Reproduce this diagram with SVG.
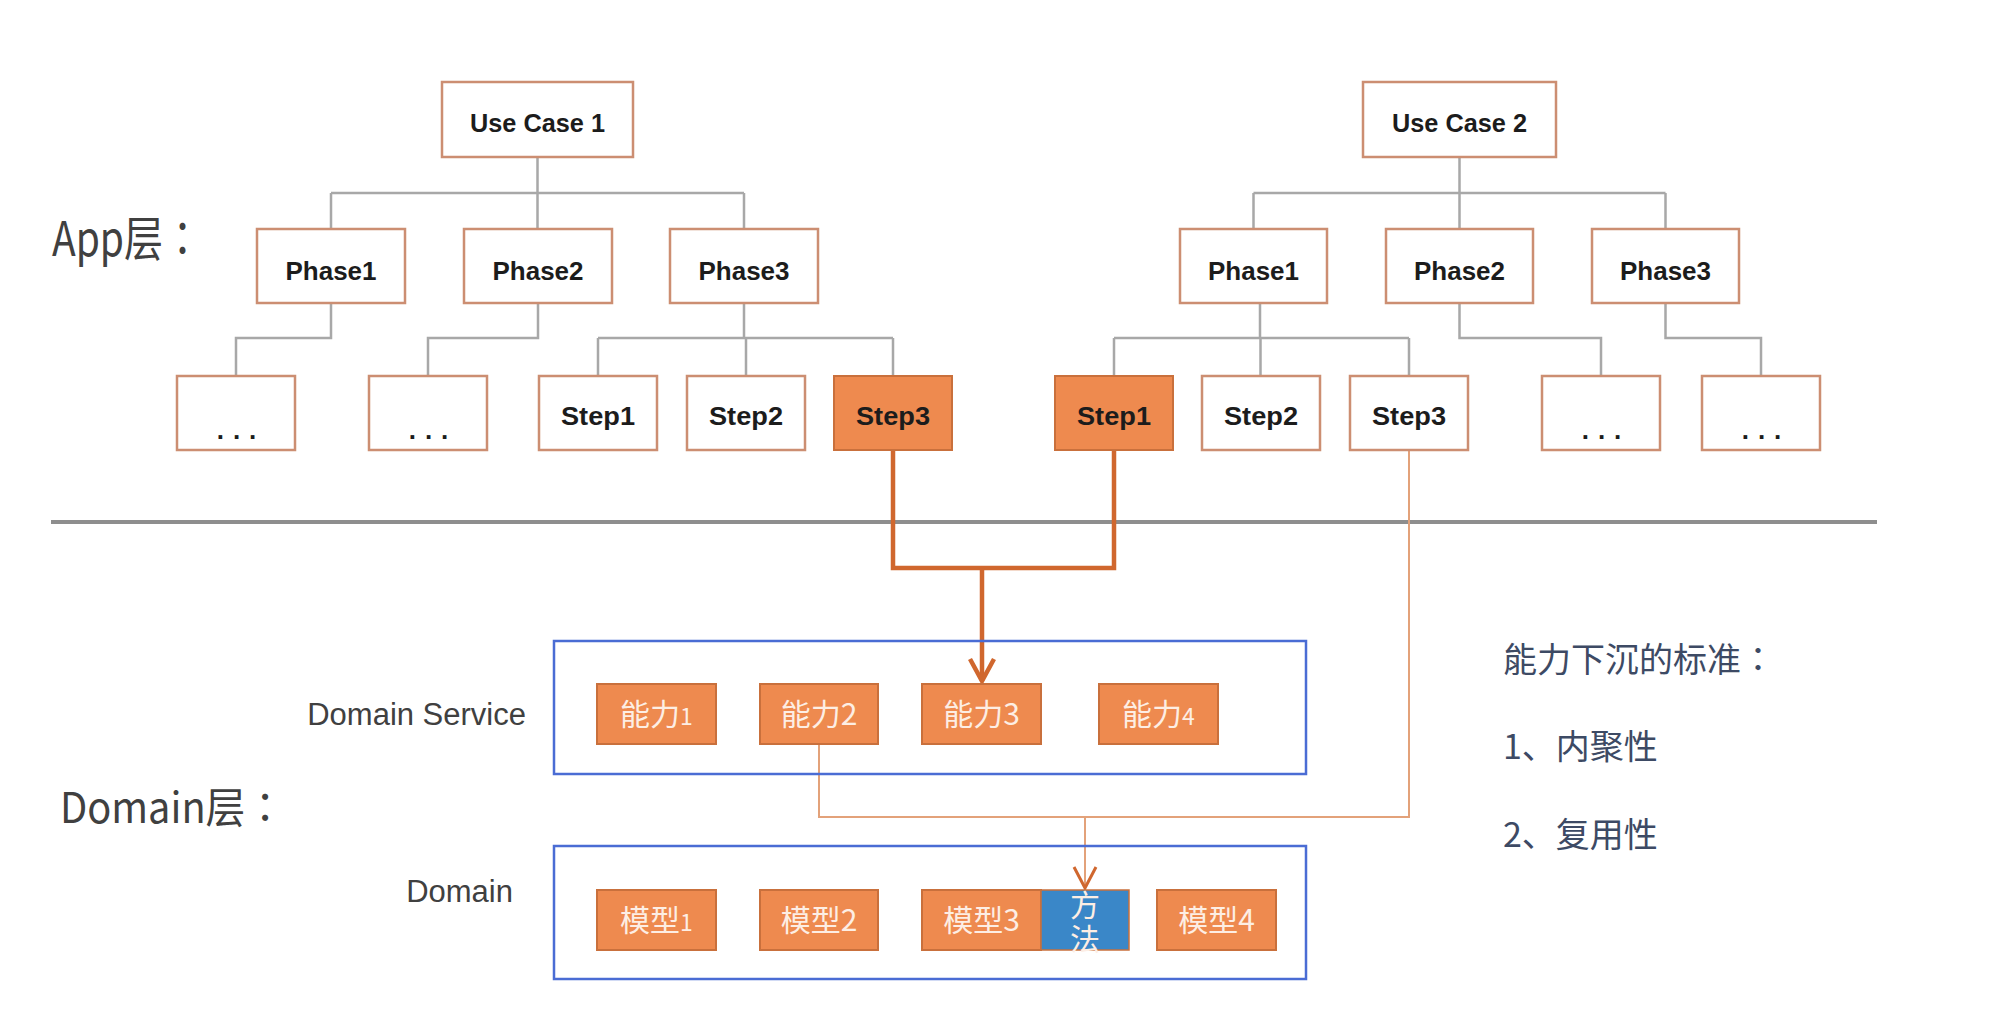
<svg xmlns="http://www.w3.org/2000/svg" width="2000" height="1016" viewBox="0 0 2000 1016">
<defs>
<style>
.bx{fill:#ffffff;stroke:#cc8e72;stroke-width:2.5}
.ob{fill:#ee8a4f;stroke:#c9703c;stroke-width:2}
.bl{fill:#3a87c8;stroke:#c9703c;stroke-width:1.5}
.dom{fill:none;stroke:#4a6cd4;stroke-width:2.5}
.lb{font-family:"Liberation Sans",Arial,sans-serif;font-weight:bold;font-size:26px;fill:#1c1c1c;text-anchor:middle}
.dots{font-family:"Liberation Sans",Arial,sans-serif;font-weight:bold;font-size:26px;fill:#1c1c1c;text-anchor:middle;letter-spacing:9px}
.cn{font-family:"Noto Sans CJK SC","Liberation Sans",sans-serif;font-size:30px;fill:#fdeee4;text-anchor:middle}
.lay{font-family:"Noto Sans CJK TC","Liberation Sans",sans-serif;fill:#404040}
.side{font-family:"Liberation Sans","Noto Sans CJK SC",sans-serif;font-size:31px;fill:#404040;text-anchor:end}
.crit{font-family:"Noto Sans CJK SC",sans-serif;font-size:34px;fill:#3d4a64}
.critt{font-family:"Noto Sans CJK TC",sans-serif;font-size:34px;fill:#3d4a64}
.gc{fill:none;stroke:#a8a8a8;stroke-width:2.5}
.oc{fill:none;stroke:#d0672e;stroke-width:4.5}
.tc{fill:none;stroke:#e3a27a;stroke-width:2}
</style>
</defs>

<!-- separator -->
<line x1="51" y1="522" x2="1877" y2="522" stroke="#8e8e8e" stroke-width="4"/>

<!-- layer labels -->
<text id="app-label" class="lay" x="52" y="256" font-size="48" textLength="150" lengthAdjust="spacingAndGlyphs">App层：</text>
<text id="domain-label" class="lay" x="60" y="823" font-size="42" textLength="225" lengthAdjust="spacingAndGlyphs">Domain层：</text>

<!-- connectors -->
<g id="connectors">
<path class="gc" d="M537.5,157 V193 M331,193 H744 M331,193 V229 M537.5,193 V229 M744,193 V229"/>
<path class="gc" d="M1459.5,157 V193 M1253.5,193 H1665.5 M1253.5,193 V229 M1459.5,193 V229 M1665.5,193 V229"/>
<path class="gc" d="M331,303 V338 H236 V376"/>
<path class="gc" d="M538,303 V338 H428 V376"/>
<path class="gc" d="M744,303 V338 M598,338 H893 M598,338 V376 M746,338 V376 M893,338 V376"/>
<path class="gc" d="M1260,303 V338 M1114,338 H1409 M1114,338 V376 M1260.5,338 V376 M1409,338 V376"/>
<path class="gc" d="M1459.5,303 V338 H1601 V376"/>
<path class="gc" d="M1665.5,303 V338 H1761 V376"/>
<path class="oc" d="M893,450 V568 H1114 V450"/>
<path class="oc" d="M982,568 V681"/>
<path class="oc" d="M970,659 L982,681 L994,659"/>
<path class="tc" d="M1409,450 V817 H819 V744"/>
<path class="tc" d="M1085,817 V887"/>
<path d="M1074,867 L1085,888 L1096,867" fill="none" stroke="#d0672e" stroke-width="3"/>
</g>

<!-- Use case 1 tree -->
<g id="uc1"><rect class="bx" x="442" y="82" width="191" height="75"/><text class="lb" x="537.5" y="132" textLength="135" lengthAdjust="spacingAndGlyphs">Use Case 1</text></g>
<g id="uc1-phase1"><rect class="bx" x="257" y="229" width="148" height="74"/><text class="lb" x="331" y="280" textLength="91" lengthAdjust="spacingAndGlyphs">Phase1</text></g>
<g id="uc1-phase2"><rect class="bx" x="464" y="229" width="148" height="74"/><text class="lb" x="538" y="280" textLength="91" lengthAdjust="spacingAndGlyphs">Phase2</text></g>
<g id="uc1-phase3"><rect class="bx" x="670" y="229" width="148" height="74"/><text class="lb" x="744" y="280" textLength="91" lengthAdjust="spacingAndGlyphs">Phase3</text></g>
<g id="uc1-more1"><rect class="bx" x="177" y="376" width="118" height="74"/><text class="dots" x="241" y="439">...</text></g>
<g id="uc1-more2"><rect class="bx" x="369" y="376" width="118" height="74"/><text class="dots" x="433" y="439">...</text></g>
<g id="uc1-step1"><rect class="bx" x="539" y="376" width="118" height="74"/><text class="lb" x="598" y="425" textLength="74" lengthAdjust="spacingAndGlyphs">Step1</text></g>
<g id="uc1-step2"><rect class="bx" x="687" y="376" width="118" height="74"/><text class="lb" x="746" y="425" textLength="74" lengthAdjust="spacingAndGlyphs">Step2</text></g>
<g id="uc1-step3"><rect class="ob" x="834" y="376" width="118" height="74"/><text class="lb" x="893" y="425" textLength="74" lengthAdjust="spacingAndGlyphs">Step3</text></g>

<!-- Use case 2 tree -->
<g id="uc2"><rect class="bx" x="1363" y="82" width="193" height="75"/><text class="lb" x="1459.5" y="132" textLength="135" lengthAdjust="spacingAndGlyphs">Use Case 2</text></g>
<g id="uc2-phase1"><rect class="bx" x="1180" y="229" width="147" height="74"/><text class="lb" x="1253.5" y="280" textLength="91" lengthAdjust="spacingAndGlyphs">Phase1</text></g>
<g id="uc2-phase2"><rect class="bx" x="1386" y="229" width="147" height="74"/><text class="lb" x="1459.5" y="280" textLength="91" lengthAdjust="spacingAndGlyphs">Phase2</text></g>
<g id="uc2-phase3"><rect class="bx" x="1592" y="229" width="147" height="74"/><text class="lb" x="1665.5" y="280" textLength="91" lengthAdjust="spacingAndGlyphs">Phase3</text></g>
<g id="uc2-step1"><rect class="ob" x="1055" y="376" width="118" height="74"/><text class="lb" x="1114" y="425" textLength="74" lengthAdjust="spacingAndGlyphs">Step1</text></g>
<g id="uc2-step2"><rect class="bx" x="1202" y="376" width="118" height="74"/><text class="lb" x="1261" y="425" textLength="74" lengthAdjust="spacingAndGlyphs">Step2</text></g>
<g id="uc2-step3"><rect class="bx" x="1350" y="376" width="118" height="74"/><text class="lb" x="1409" y="425" textLength="74" lengthAdjust="spacingAndGlyphs">Step3</text></g>
<g id="uc2-more1"><rect class="bx" x="1542" y="376" width="118" height="74"/><text class="dots" x="1606" y="439">...</text></g>
<g id="uc2-more2"><rect class="bx" x="1702" y="376" width="118" height="74"/><text class="dots" x="1766" y="439">...</text></g>

<!-- Domain service -->
<g id="domain-service">
<rect class="dom" x="554" y="641" width="752" height="133"/>
<text class="side" x="526" y="725">Domain Service</text>
</g>
<g id="cap1"><rect class="ob" x="597" y="684" width="119" height="60"/><text class="cn" x="656.5" y="725">能力<tspan font-size="23">1</tspan></text></g>
<g id="cap2"><rect class="ob" x="760" y="684" width="118" height="60"/><text class="cn" x="819" y="725">能力2</text></g>
<g id="cap3"><rect class="ob" x="922" y="684" width="119" height="60"/><text class="cn" x="981.5" y="725">能力3</text></g>
<g id="cap4"><rect class="ob" x="1099" y="684" width="119" height="60"/><text class="cn" x="1158.5" y="725">能力<tspan font-size="23">4</tspan></text></g>

<!-- Domain -->
<g id="domain">
<rect class="dom" x="554" y="846" width="752" height="133"/>
<text class="side" x="513" y="902">Domain</text>
</g>
<g id="model1"><rect class="ob" x="597" y="890" width="119" height="60"/><text class="cn" x="656.5" y="931">模型<tspan font-size="23">1</tspan></text></g>
<g id="model2"><rect class="ob" x="760" y="890" width="118" height="60"/><text class="cn" x="819" y="931">模型2</text></g>
<g id="model3"><rect class="ob" x="922" y="890" width="119" height="60"/><text class="cn" x="981.5" y="931">模型3</text></g>
<g id="method"><rect class="bl" x="1041" y="890" width="88" height="60"/><text class="cn" x="1085" y="924" font-size="26" style="writing-mode:vertical-rl;letter-spacing:4px">方法</text></g>
<g id="model4"><rect class="ob" x="1157" y="890" width="119" height="60"/><text class="cn" x="1216.5" y="931">模型4</text></g>

<!-- criteria -->
<g id="criteria">
<text class="critt" x="1503" y="672">能力下沉的标准：</text>
<text class="crit" x="1503" y="759">1、内聚性</text>
<text class="crit" x="1503" y="847">2、复用性</text>
</g>
</svg>
